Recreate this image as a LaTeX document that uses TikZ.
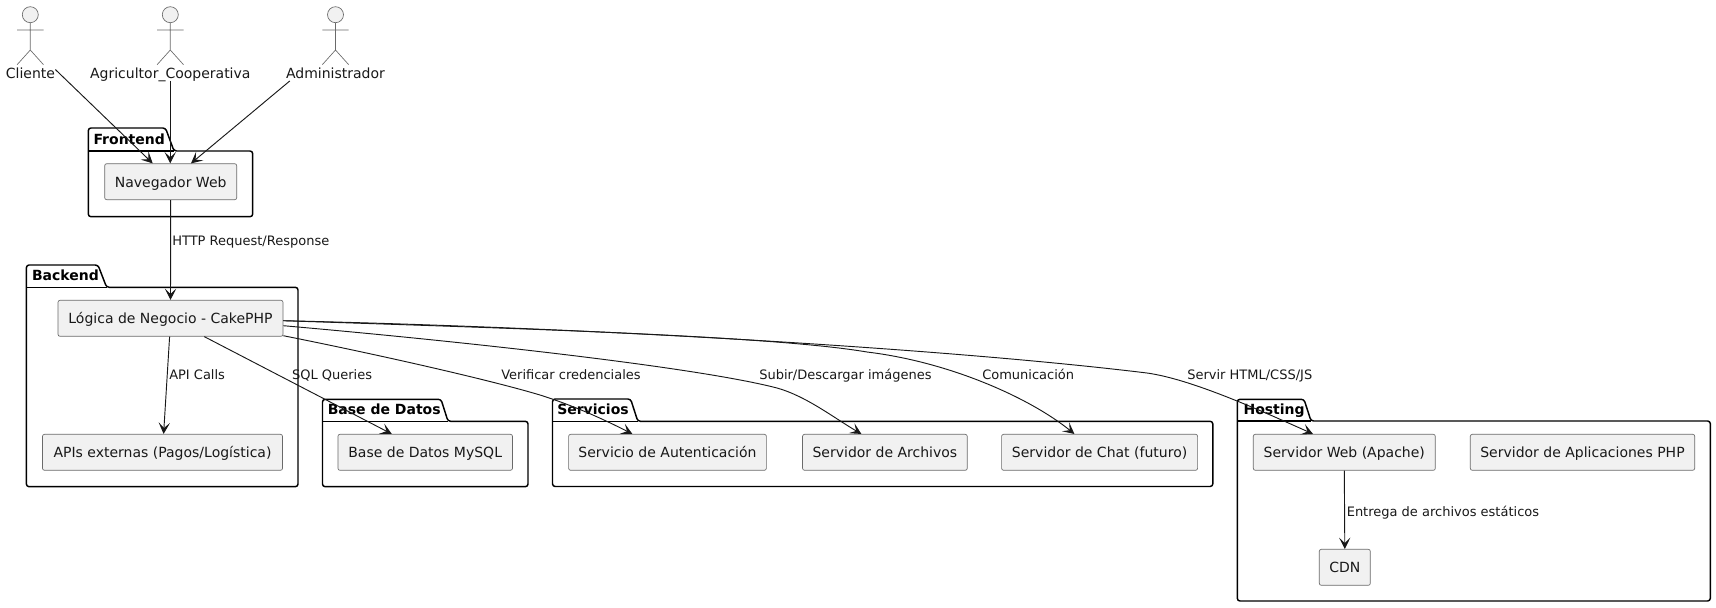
\documentclass[tikz,border=0pt]{standalone}
\usepackage{fontspec}
\setmainfont{DejaVu Sans}
\usepackage{xcolor}
\usetikzlibrary{arrows.meta,calc}
\definecolor{ink}{HTML}{181818}
\definecolor{edgegray}{HTML}{6A6A6A}
\definecolor{boxfill}{HTML}{F1F1F1}
\tikzset{
  box/.style={draw=edgegray,line width=0.5pt,fill=boxfill,rounded corners=1.5pt,minimum height=27pt,inner sep=0pt,font=\fontsize{10.5}{12}\selectfont,text=ink,text height=10.4pt,text depth=2pt},
  pkg/.style={draw=black,line width=1.1pt,rounded corners=2pt,line join=round},
  title/.style={anchor=west,inner sep=0pt,font=\fontsize{10.5}{12}\selectfont\bfseries,text height=9.5pt,text depth=2pt},
  lbl/.style={anchor=west,inner sep=0pt,font=\fontsize{9.75}{12}\selectfont,text=ink,text height=9.5pt,text depth=2pt},
  who/.style={inner sep=0pt,font=\fontsize{10.5}{12}\selectfont,text=ink,text height=9.5pt,text depth=2pt},
  arr/.style={draw=ink,line width=0.7pt,-{Stealth[length=8.5pt,width=8.5pt,inset=4pt]}},
  stick/.style={draw=edgegray,line width=0.5pt},
}
\begin{document}
\begin{tikzpicture}[x=0.75pt,y=-0.75pt]
\useasboundingbox (0,0) rectangle (1716,607);
% packages
\foreach \xa/\xb/\ya/\yb/\yc/\tr/\trb in {
  88.3/252.7/128/151/216.7/165.5/174,
  26.4/298/265/287.3/486.7/98/106.6,
  322.5/528/399.3/421.3/486.7/441/448,
  552.5/1212.8/399/421.3/486.5/630.6/637.8,
  1237.3/1710.3/399.3/421/601/1304/1311}{
  \draw[pkg] (\xa,\yb)--(\xa,\ya)--(\tr,\ya)--(\trb,\yb)--(\xb,\yb)--(\xb,\yc)--(\xa,\yc)--cycle;
  \draw[pkg,rounded corners=0pt] (\xa,\yb)--(\trb,\yb);
}
\node[title] (tfront) at (93.3,139) {Frontend};
\node[title] (tback) at (31.8,275) {Backend};
\node[title] (tbase) at (327.5,409) {Base de Datos};
\node[title] (tserv) at (557,409) {Servicios};
\node[title] (thost) at (1243.3,409) {Hosting};
% actors
\foreach \cx in {30.3,170.3,335.5}{
  \draw[stick,fill=boxfill] (\cx,14.7) circle (6pt);
  \draw[stick] (\cx,22.7)--(\cx,50) (\cx-13.2,30)--(\cx+13.2,30) (\cx-13.2,64.7)--(\cx,50)--(\cx+13.2,64.7);
}
\node[who] (cliente) at (30.5,73) {Cliente};
\node[who] (agri) at (170.3,73) {Agricultor\_Cooperativa};
\node[who] (admin) at (335.5,73) {Administrador};
% boxes
\node[box,minimum width=99pt] (nav) at (170.7,181.7) {Navegador Web};
\node[box,minimum width=168.75pt] (logic) at (170.5,318.3) {Lógica de Negocio - CakePHP};
\node[box,minimum width=180pt] (apis) at (162.5,452.3) {APIs externas (Pagos/Logística)};
\node[box,minimum width=130.9pt] (db) at (425.2,452.3) {Base de Datos MySQL};
\node[box,minimum width=148.3pt] (auth) at (667.5,452.3) {Servicio de Autenticación};
\node[box,minimum width=123.5pt] (files) at (884.9,452.3) {Servidor de Archivos};
\node[box,minimum width=147pt] (chat) at (1099.6,452.3) {Servidor de Chat (futuro)};
\node[box,minimum width=136.5pt] (web) at (1344.3,452.3) {Servidor Web (Apache)};
\node[box,minimum width=168.3pt] (php) at (1582.5,452.3) {Servidor de Aplicaciones PHP};
\node[box,minimum width=38.25pt] (cdn) at (1344.8,567.3) {CDN};
% connectors
\draw[arr] ($(cliente.east)+(0,-3.5)$)--($(nav.north)+(-18,0)$);
\draw[arr] (agri.south)--(agri.south|-nav.north);
\draw[arr] ($(admin.south west)+(4,0)$)--($(nav.north)+(20.3,0)$);
\draw[arr] (nav.south)--(logic.north);
\draw[arr] ($(logic.south)+(-0.9,0)$)--($(apis.north)+(1.1,0)$);
\draw[arr] ($(logic.south)+(33.8,0)$)--($(db.north)+(-33.4,0)$);
\draw[arr] ($(logic.east)+(0,17.4)$) .. controls (380,355) and (490,380) .. (540,395) .. controls (575,406) and (605,420) .. ($(auth.north)+(-35.1,0)$);
\draw[arr] ($(logic.east)+(0,7.4)$) .. controls (480,343) and (700,368) .. (777,388) .. controls (806,396) and (835,418.5) .. ($(files.north)+(-23.5,0)$);
\draw[arr] ($(logic.east)+(0,2.4)$) .. controls (500,328) and (770,335.5) .. (867,352) .. controls (950,362) and (1030,398) .. ($(chat.north)+(-25.2,0)$);
\draw[arr] ($(logic.east)+(0,2.4)$) .. controls (600,328) and (950,349) .. (1147,373) .. controls (1190,379) and (1255,408) .. ($(web.north)+(-31.3,0)$);
\draw[arr] (web.south)--(cdn.north);
% labels
\node[lbl] (lhttp) at (172,240) {HTTP Request/Response};
\node[lbl] (lapi) at (169,374.3) {API Calls};
\node[lbl] (lsql) at (291.8,374.3) {SQL Queries};
\node[lbl] (lver) at (501,374.3) {Verificar credenciales};
\node[lbl] (lsub) at (759,374.3) {Subir/Descargar imágenes};
\node[lbl] (lcom) at (982,374.3) {Comunicación};
\node[lbl] (lserv) at (1187,374.3) {Servir HTML/CSS/JS};
\node[lbl] (lent) at (1346.5,511) {Entrega de archivos estáticos};
\end{tikzpicture}
\end{document}
